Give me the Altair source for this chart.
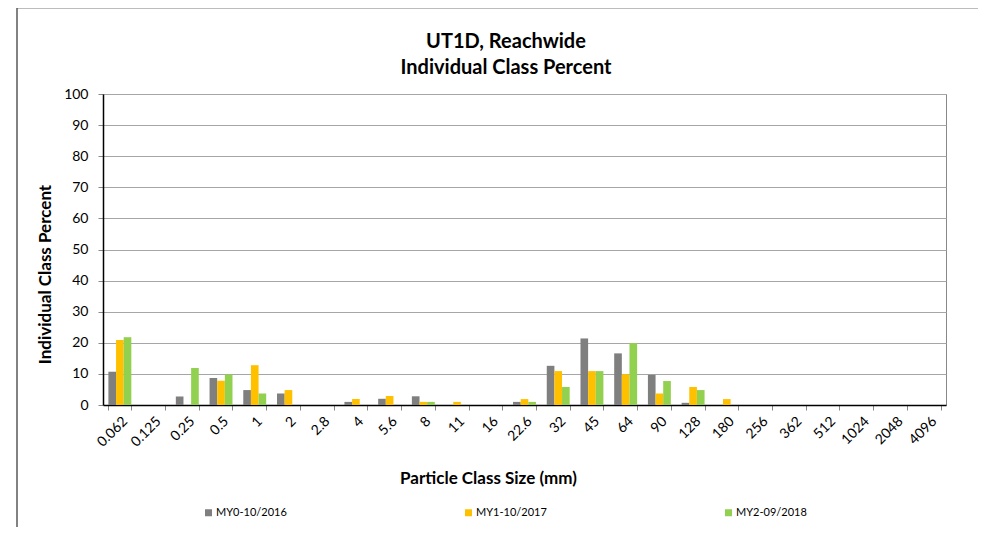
import altair as alt
import pandas as pd

sizes = ["0.062", "0.125", "0.25", "0.5", "1", "2", "2.8", "4", "5.6", "8", "11", "16",
         "22.6", "32", "45", "64", "90", "128", "180", "256", "362", "512", "1024", "2048", "4096"]
series = ["MY0-10/2016", "MY1-10/2017", "MY2-09/2018"]
my0 = [10.7, 0, 2.7, 8.7, 4.8, 3.7, 0, 1, 2, 2.8, 0, 0, 1, 12.6, 21.4, 16.6, 9.7, 0.7, 0, 0, 0, 0, 0, 0, 0]
my1 = [20.9, 0, 0, 7.8, 12.8, 4.8, 0, 1.9, 2.9, 1, 1, 0, 1.9, 10.9, 10.9, 9.9, 3.7, 5.8, 1.9, 0, 0, 0, 0, 0, 0]
my2 = [21.8, 0, 11.9, 9.8, 3.7, 0, 0, 0, 0, 1, 0, 0, 1, 5.8, 10.9, 19.9, 7.7, 4.8, 0, 0, 0, 0, 0, 0, 0]
colors = ["#7F7F7F", "#FFC000", "#92D050"]
title_lines = ["UT1D, Reachwide", "Individual Class Percent"]

rows = []
for i, s in enumerate(sizes):
    for name, vals in zip(series, [my0, my1, my2]):
        rows.append({"size": s, "series": name, "value": vals[i]})
df = pd.DataFrame(rows)

FONT = "Lato"

bars = alt.Chart(df).mark_bar().encode(
    x=alt.X("size:N", sort=sizes, title="Particle Class Size (mm)",
            scale=alt.Scale(paddingInner=0.32, paddingOuter=0.16),
            axis=alt.Axis(labelAngle=-45, labelAlign="right", labelBaseline="top",
                          labelFontSize=14, labelFont=FONT, labelColor="#000",
                          tickBand="extent", tickColor="#888", tickSize=5,
                          domainColor="#000", domainWidth=1.5,
                          titleFontSize=17, titleFont=FONT, titleFontWeight="bold",
                          titleX=385, titleY=73, titleBaseline="middle", titleColor="#000",
                          labelPadding=4)),
    xOffset=alt.XOffset("series:N", sort=series),
    y=alt.Y("value:Q", title="Individual Class Percent",
            scale=alt.Scale(domain=[0, 100]),
            axis=alt.Axis(values=list(range(0, 101, 10)), labelFontSize=14, labelFont=FONT,
                          labelColor="#000", gridColor="#A6A6A6", tickColor="#888", tickSize=5,
                          domainColor="#000", domainWidth=1.5,
                          titleFontSize=17, titleFont=FONT, titleFontWeight="bold",
                          titleColor="#000", titleX=-58, titleY=180, titleAngle=-90,
                          titleBaseline="middle", titleAlign="center", labelPadding=10)),
    color=alt.Color("series:N", sort=series,
                    scale=alt.Scale(domain=series, range=colors),
                    legend=alt.Legend(title=None, orient="none", legendX=100, legendY=413,
                                      direction="horizontal", symbolType="square",
                                      symbolSize=49, symbolStrokeWidth=0,
                                      labelFontSize=11, labelFont=FONT, labelColor="#000",
                                      columnPadding=176, labelOffset=2)),
)

one = pd.DataFrame({"k": [0]})

# chart title as text
title1 = alt.Chart(one).mark_text(text=title_lines[0], font=FONT, fontSize=20, fontWeight="bold",
                                  color="#000", align="center", baseline="middle").encode(
    x=alt.value(403), y=alt.value(-52))
title2 = alt.Chart(one).mark_text(text=title_lines[1], font=FONT, fontSize=20, fontWeight="bold",
                                  color="#000", align="center", baseline="middle").encode(
    x=alt.value(403), y=alt.value(-26))

# outer chart-area frame (decoration)
frame_top = alt.Chart(one).mark_rule(stroke="#A6A6A6", strokeWidth=1.5).encode(
    x=alt.value(-86), x2=alt.value(880), y=alt.value(-86))
frame_left = alt.Chart(one).mark_rule(stroke="#595959", strokeWidth=1.5).encode(
    x=alt.value(-86), y=alt.value(-86), y2=alt.value(440))

chart = alt.layer(bars, title1, title2, frame_top, frame_left).properties(
    width=843, height=311,
    autosize=alt.AutoSizeParams(type="none"),
    padding={"left": 95, "top": 86, "right": 32, "bottom": 122},
).configure_view(stroke="#888", strokeWidth=1)

chart.save("out.html", embed_options={"renderer": "svg", "actions": False})
